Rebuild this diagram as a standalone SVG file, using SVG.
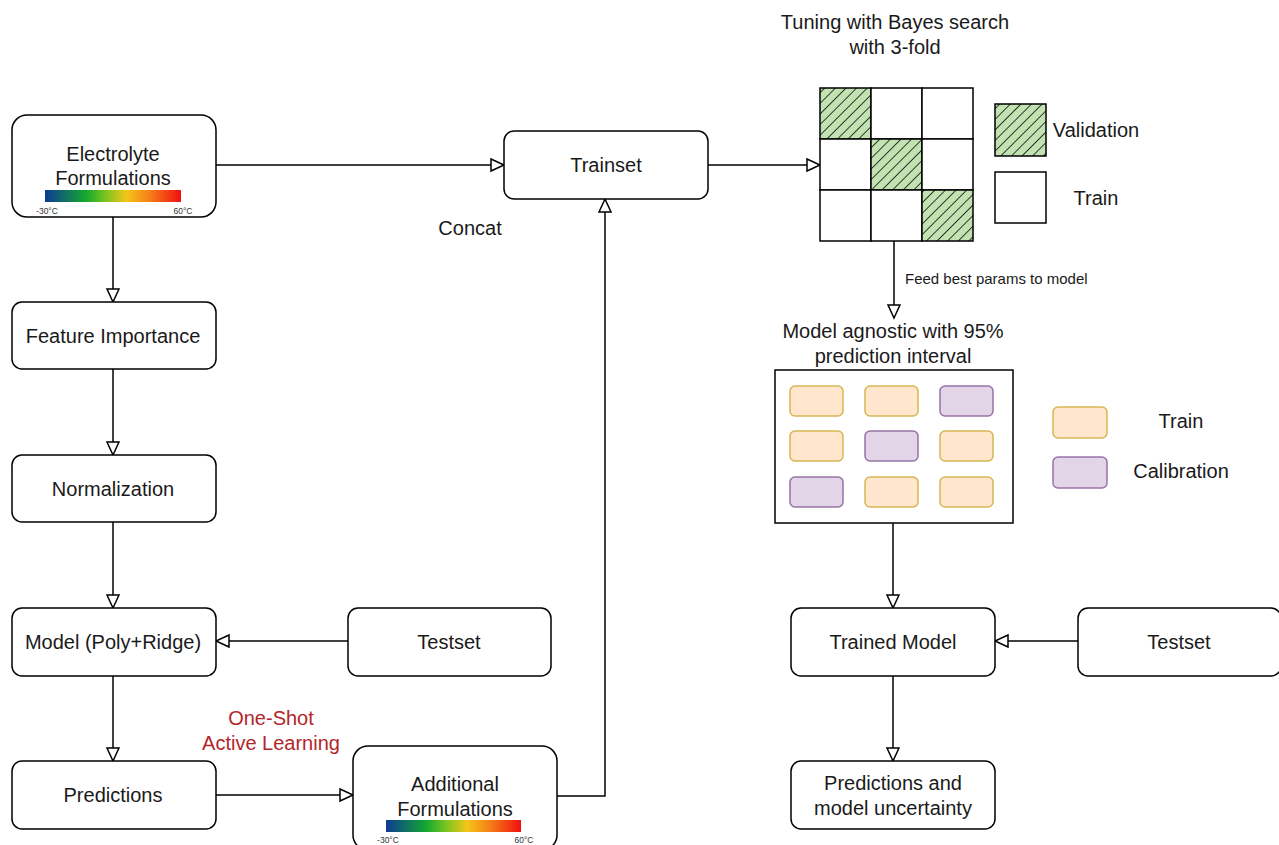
<svg xmlns="http://www.w3.org/2000/svg" width="1279" height="845" viewBox="0 0 1279 845">
<style>
.box{fill:#fff;stroke:#000;stroke-width:1.5}
.t{font-family:"Liberation Sans",Arial,sans-serif;font-size:20px;fill:#1a1a1a;text-anchor:middle;dominant-baseline:central}
.s{font-family:"Liberation Sans",Arial,sans-serif;font-size:15px;fill:#1a1a1a;dominant-baseline:central}
.tiny{font-family:"Liberation Sans",Arial,sans-serif;font-size:8.5px;fill:#333;text-anchor:middle}
.red{fill:#b3262b}
.c{fill:none;stroke:#000;stroke-width:1.5}
.cell{fill:#fff;stroke:#000;stroke-width:1.5}
.hat{fill:url(#hatch);stroke:#000;stroke-width:1.5}
.tr{fill:#ffe6cc;stroke:#d6b656;stroke-width:1.5}
.ca{fill:#e1d5e7;stroke:#9673a6;stroke-width:1.5}
</style>
<defs>
<marker id="arr" markerUnits="userSpaceOnUse" markerWidth="16" markerHeight="16" refX="14" refY="7" orient="auto">
<path d="M1,1 L14,7 L1,13 Z" fill="#fff" stroke="#000" stroke-width="1.5"/>
</marker>
<pattern id="hatch" patternUnits="userSpaceOnUse" width="7.5" height="7.5" patternTransform="rotate(45)">
<rect width="7.5" height="7.5" fill="#c2e2b2"/>
<line x1="0" y1="0" x2="0" y2="7.5" stroke="#000" stroke-width="1.5"/>
</pattern>
<linearGradient id="temp" x1="0" x2="1" y1="0" y2="0">
<stop offset="0" stop-color="#0d3b95"/>
<stop offset="0.3" stop-color="#14a830"/>
<stop offset="0.45" stop-color="#7cc520"/>
<stop offset="0.6" stop-color="#f5c518"/>
<stop offset="0.78" stop-color="#f57a18"/>
<stop offset="1" stop-color="#f01010"/>
</linearGradient>
</defs>

<g id="connectors">
<path class="c" d="M216,165 H504" marker-end="url(#arr)"/>
<path class="c" d="M708,165 H820" marker-end="url(#arr)"/>
<path class="c" d="M557,796 H605 V199" marker-end="url(#arr)"/>
<path class="c" d="M113,217 V302" marker-end="url(#arr)"/>
<path class="c" d="M113,369 V455" marker-end="url(#arr)"/>
<path class="c" d="M113,522 V608" marker-end="url(#arr)"/>
<path class="c" d="M113,676 V761" marker-end="url(#arr)"/>
<path class="c" d="M348,641 H216" marker-end="url(#arr)"/>
<path class="c" d="M216,795 H353" marker-end="url(#arr)"/>
<path class="c" d="M894,241 V318" marker-end="url(#arr)"/>
<path class="c" d="M893,523 V608" marker-end="url(#arr)"/>
<path class="c" d="M1078,641 H995" marker-end="url(#arr)"/>
<path class="c" d="M893,676 V761" marker-end="url(#arr)"/>
<text class="t" x="470" y="228">Concat</text>
<text class="s" x="905" y="278">Feed best params to model</text>
<text class="t red" x="271" y="718">One-Shot</text>
<text class="t red" x="271" y="743">Active Learning</text>
</g>

<g id="electrolyte">
<rect class="box" x="12" y="115" width="204" height="102" rx="15"/>
<text class="t" x="113" y="154">Electrolyte</text>
<text class="t" x="113" y="178">Formulations</text>
<rect x="45" y="190" width="136" height="12" fill="url(#temp)"/>
<text class="tiny" x="47" y="214">-30°C</text>
<text class="tiny" x="183" y="214">60°C</text>
</g>

<g id="feature">
<rect class="box" x="12" y="302" width="204" height="67" rx="10"/>
<text class="t" x="113" y="336">Feature Importance</text>
</g>

<g id="normalization">
<rect class="box" x="12" y="455" width="204" height="67" rx="10"/>
<text class="t" x="113" y="489">Normalization</text>
</g>

<g id="model">
<rect class="box" x="12" y="608" width="204" height="68" rx="10"/>
<text class="t" x="113" y="642">Model (Poly+Ridge)</text>
</g>

<g id="predictions">
<rect class="box" x="12" y="761" width="204" height="68" rx="10"/>
<text class="t" x="113" y="795">Predictions</text>
</g>

<g id="testset-left">
<rect class="box" x="348" y="608" width="203" height="68" rx="10"/>
<text class="t" x="449" y="642">Testset</text>
</g>

<g id="additional">
<rect class="box" x="353" y="746" width="204" height="104" rx="15"/>
<text class="t" x="455" y="784">Additional</text>
<text class="t" x="455" y="809">Formulations</text>
<rect x="386" y="820" width="135" height="12" fill="url(#temp)"/>
<text class="tiny" x="388" y="843">-30°C</text>
<text class="tiny" x="524" y="843">60°C</text>
</g>

<g id="trainset">
<rect class="box" x="504" y="131" width="204" height="68" rx="10"/>
<text class="t" x="606" y="165">Trainset</text>
</g>

<g id="cv-grid">
<text class="t" x="895" y="22">Tuning with Bayes search</text>
<text class="t" x="895" y="47">with 3-fold</text>
<rect class="hat" x="820" y="88" width="51" height="51"/>
<rect class="cell" x="871" y="88" width="51" height="51"/>
<rect class="cell" x="922" y="88" width="51" height="51"/>
<rect class="cell" x="820" y="139" width="51" height="51"/>
<rect class="hat" x="871" y="139" width="51" height="51"/>
<rect class="cell" x="922" y="139" width="51" height="51"/>
<rect class="cell" x="820" y="190" width="51" height="51"/>
<rect class="cell" x="871" y="190" width="51" height="51"/>
<rect class="hat" x="922" y="190" width="51" height="51"/>
</g>

<g id="cv-legend">
<rect class="hat" x="995" y="104" width="51" height="52"/>
<text class="t" x="1096" y="130">Validation</text>
<rect class="cell" x="995" y="172" width="51" height="51"/>
<text class="t" x="1096" y="198">Train</text>
</g>

<g id="agnostic">
<text class="t" x="893" y="331">Model agnostic with 95%</text>
<text class="t" x="893" y="356">prediction interval</text>
<rect class="box" x="775" y="370" width="238" height="153"/>
<rect class="tr" x="790" y="386" width="53" height="30" rx="5"/>
<rect class="tr" x="865" y="386" width="53" height="30" rx="5"/>
<rect class="ca" x="940" y="386" width="53" height="30" rx="5"/>
<rect class="tr" x="790" y="431" width="53" height="30" rx="5"/>
<rect class="ca" x="865" y="431" width="53" height="30" rx="5"/>
<rect class="tr" x="940" y="431" width="53" height="30" rx="5"/>
<rect class="ca" x="790" y="477" width="53" height="30" rx="5"/>
<rect class="tr" x="865" y="477" width="53" height="30" rx="5"/>
<rect class="tr" x="940" y="477" width="53" height="30" rx="5"/>
</g>

<g id="agnostic-legend">
<rect class="tr" x="1053" y="407" width="54" height="31" rx="5"/>
<text class="t" x="1181" y="421">Train</text>
<rect class="ca" x="1053" y="457" width="54" height="31" rx="5"/>
<text class="t" x="1181" y="471">Calibration</text>
</g>

<g id="trained-model">
<rect class="box" x="791" y="608" width="204" height="68" rx="10"/>
<text class="t" x="893" y="642">Trained Model</text>
</g>

<g id="testset-right">
<rect class="box" x="1078" y="608" width="203" height="68" rx="10"/>
<text class="t" x="1179" y="642">Testset</text>
</g>

<g id="predictions-uncertainty">
<rect class="box" x="791" y="761" width="204" height="68" rx="10"/>
<text class="t" x="893" y="783">Predictions and</text>
<text class="t" x="893" y="808">model uncertainty</text>
</g>
</svg>
